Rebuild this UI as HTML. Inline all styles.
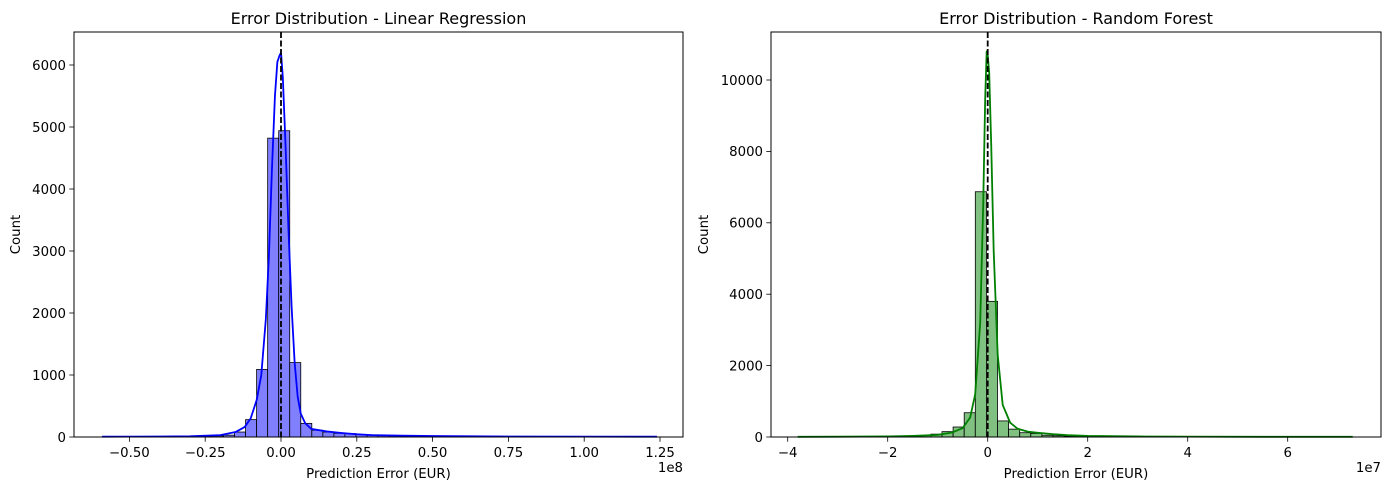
<!DOCTYPE html>
<html><head><meta charset="utf-8"><style>
html,body{margin:0;padding:0;background:#fff;}
svg{display:block;font-family:"DejaVu Sans","Liberation Sans",sans-serif;}
</style></head><body>
<svg id="fig" width="1389" height="490" viewBox="0 0 1389 490" xmlns="http://www.w3.org/2000/svg"></svg>
<script>
// ---- Linear Regression data (x in 1e8 EUR) ----
const lrBinStart = -0.59;
const lrBinWidth = 0.0364;
const lrCounts = [3,3,3,3,4,4,5,6,8,12,18,30,80,280,1090,4820,4940,1200,220,110,80,60,55,40,35,30,20,18,15,12,10,9,8,8,7,6,5,5,5,4,4,4,3,3,3,3,3,3,3,3];
const lrKdeX = [-0.59,-0.4,-0.3,-0.2,-0.15,-0.12,-0.1,-0.08,-0.065,-0.05,-0.04,-0.03,-0.02,-0.012,-0.005,0.0,0.006,0.015,0.025,0.035,0.045,0.055,0.065,0.08,0.1,0.15,0.2,0.25,0.3,0.4,0.5,0.75,1.0,1.24];
const lrKdeY = [5,8,12,30,80,160,300,600,1000,1900,2900,4300,5500,6050,6150,6200,5800,4700,3300,2100,1200,650,380,220,130,90,65,45,30,22,15,8,6,5];
const lrYTicks = [0,1000,2000,3000,4000,5000,6000];
const lrXTicks = [-0.50,-0.25,0.00,0.25,0.50,0.75,1.00,1.25];
const lrXTickLabels = ["\u22120.50","\u22120.25","0.00","0.25","0.50","0.75","1.00","1.25"];

// ---- Random Forest data (x in 1e7 EUR) ----
const rfBinStart = -3.8;
const rfBinWidth = 0.222;
const rfCounts = [3,3,3,4,4,5,6,8,10,15,25,45,80,150,280,680,6870,3800,450,220,120,100,50,35,25,20,15,12,10,8,7,6,5,5,4,4,4,3,3,3,3,3,3,3,3,3,3,3,3,3];
const rfKdeX = [-3.8,-3,-2,-1.5,-1,-0.7,-0.5,-0.35,-0.25,-0.15,-0.09,-0.05,-0.02,0.0,0.03,0.07,0.12,0.2,0.3,0.45,0.6,0.8,1.0,1.3,1.6,2,3,4,5.5,7.3];
const rfKdeY = [5,8,15,30,60,130,250,550,1200,3200,6500,9500,10800,10700,10200,8200,5200,2300,900,400,230,150,120,80,50,30,15,10,6,5];
const rfYTicks = [0,2000,4000,6000,8000,10000];
const rfXTicks = [-4,-2,0,2,4,6];
const rfXTickLabels = ["\u22124","\u22122","0","2","4","6"];

const NS = "http://www.w3.org/2000/svg";
const svg = document.getElementById('fig');
function mk(tag, attrs, parent){
  const e = document.createElementNS(NS, tag);
  for (const k in attrs) e.setAttribute(k, attrs[k]);
  (parent||svg).appendChild(e);
  return e;
}

function drawPanel(cfg){
  const g = mk('g', {});
  
  
  const sx = v => cfg.x0 + v * cfg.pxPerX;
  const sy = v => cfg.yBase - v * cfg.pxPerY;

  const bars = mk('g', {}, g);
  
  
  cfg.counts.forEach((c, i) => {
    const xa = sx(cfg.binStart + i * cfg.binWidth);
    const xb = sx(cfg.binStart + (i + 1) * cfg.binWidth);
    const r = mk('rect', {x: xa, y: sy(c), width: xb - xa, height: cfg.yBase - sy(c),
      fill: cfg.fill, stroke: '#000', 'stroke-width': 0.8}, bars);
    
    
  });

  let d = '';
  cfg.kdeX.forEach((x, i) => { d += (i ? 'L' : 'M') + sx(x).toFixed(2) + ',' + sy(cfg.kdeY[i]).toFixed(2); });
  const kde = mk('path', {d: d, fill: 'none', stroke: cfg.line, 'stroke-width': 1.8, 'stroke-linejoin': 'round'}, g);
  
  

  const zl = mk('line', {x1: sx(0), x2: sx(0), y1: cfg.yTop, y2: cfg.yBase, stroke: '#000', 'stroke-width': 1.8, 'stroke-dasharray': '6,2.5'}, g);
  
  

  const fr = mk('rect', {x: cfg.left, y: cfg.yTop, width: cfg.right - cfg.left, height: cfg.yBase - cfg.yTop, fill: 'none', stroke: '#000', 'stroke-width': 1}, g);
  
  

  cfg.yTicks.forEach(t => {
    const y = sy(t);
    mk('line', {x1: cfg.left - 4.7, x2: cfg.left, y1: y, y2: y, stroke: '#000', 'stroke-width': 0.8}, g);
    const tx = mk('text', {x: cfg.left - 8, y: y + 4.8, 'text-anchor': 'end', 'font-size': 13.3}, g);
    tx.textContent = String(t);
    
    
  });
  cfg.xTicks.forEach((t, i) => {
    const x = sx(t);
    mk('line', {x1: x, x2: x, y1: cfg.yBase, y2: cfg.yBase + 4.7, stroke: '#000', 'stroke-width': 0.8}, g);
    const tx = mk('text', {x: x, y: cfg.yBase + 20, 'text-anchor': 'middle', 'font-size': 13.3}, g);
    tx.textContent = cfg.xTickLabels[i];
    
    
  });
  const mid = (cfg.left + cfg.right) / 2;
  const xt = mk('text', {x: mid, y: 478, 'text-anchor': 'middle', 'font-size': 13.3}, g);
  xt.textContent = 'Prediction Error (EUR)';
  
  
  const off = mk('text', {x: cfg.right, y: 472, 'text-anchor': 'end', 'font-size': 13.3}, g);
  off.textContent = cfg.offset;
  
  
  const yc = (cfg.yTop + cfg.yBase) / 2;
  const yl = mk('text', {x: cfg.ylabX, y: yc, 'text-anchor': 'middle', 'font-size': 13.3, transform: 'rotate(-90 ' + cfg.ylabX + ' ' + yc + ')'}, g);
  yl.textContent = 'Count';
  
  
  const ti = mk('text', {x: mid, y: 24, 'text-anchor': 'middle', 'font-size': 16}, g);
  ti.textContent = cfg.title;
  
  
}

drawPanel({name: 'linear-regression', left: 74, right: 683, yTop: 32, yBase: 437,
  x0: 281, pxPerX: 303.2, pxPerY: 0.062,
  binStart: lrBinStart, binWidth: lrBinWidth, counts: lrCounts,
  kdeX: lrKdeX, kdeY: lrKdeY, yTicks: lrYTicks, xTicks: lrXTicks, xTickLabels: lrXTickLabels,
  fill: '#8080ff', line: '#0000ff', offset: '1e8', ylabX: 20,
  title: 'Error Distribution - Linear Regression'});

drawPanel({name: 'random-forest', left: 771, right: 1381, yTop: 32, yBase: 437,
  x0: 987.7, pxPerX: 50, pxPerY: 0.0357,
  binStart: rfBinStart, binWidth: rfBinWidth, counts: rfCounts,
  kdeX: rfKdeX, kdeY: rfKdeY, yTicks: rfYTicks, xTicks: rfXTicks, xTickLabels: rfXTickLabels,
  fill: '#80c080', line: '#008000', offset: '1e7', ylabX: 708,
  title: 'Error Distribution - Random Forest'});
</script>
</body></html>
